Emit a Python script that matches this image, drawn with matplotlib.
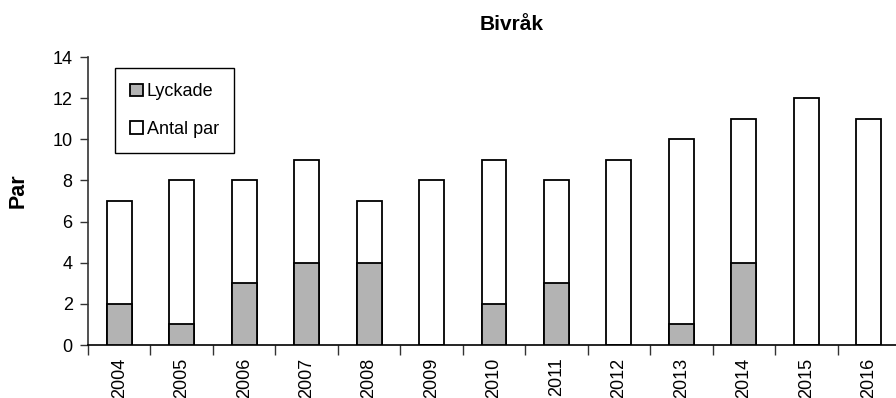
import numpy as np
import matplotlib
matplotlib.use("Agg")
import matplotlib.pyplot as plt
from matplotlib.ticker import FixedLocator, NullFormatter

plt.rcParams["font.family"] = ["Liberation Sans", "DejaVu Sans"]

years = ["2004", "2005", "2006", "2007", "2008", "2009", "2010",
         "2011", "2012", "2013", "2014", "2015", "2016"]
antal_par = [7, 8, 8, 9, 7, 8, 9, 8, 9, 10, 11, 12, 11]
lyckade = [2, 1, 3, 4, 4, 0, 2, 3, 0, 1, 4, 0, 0]

x = np.arange(len(years))
w = 0.4

fig = plt.figure(figsize=(8.96, 3.98), dpi=100)
ax = fig.add_axes([88 / 896, 53 / 398, 812 / 896, 288 / 398])

ax.bar(x, antal_par, width=w, color="white", edgecolor="black", linewidth=1.3,
       label="Antal par", zorder=2)
ly = np.array(lyckade)
ax.bar(x[ly > 0], ly[ly > 0], width=w, color="#b3b3b3", edgecolor="black",
       linewidth=1.3, label="Lyckade", zorder=3)

ax.set_xlim(-0.5, len(years) - 0.5)
ax.set_ylim(0, 14)
ax.set_yticks(range(0, 15, 2))
ax.set_xticks(x)
ax.set_xticklabels(years, rotation=90)
ax.xaxis.set_minor_locator(FixedLocator(np.arange(-0.5, len(years), 1.0)))
ax.xaxis.set_minor_formatter(NullFormatter())
ax.tick_params(axis="x", which="major", length=0, pad=9, labelsize=13)
ax.tick_params(axis="x", which="minor", length=7, width=1, color="#333333")
ax.tick_params(axis="y", length=6, width=1, color="#333333", labelsize=13, pad=5)

for side in ("top", "right"):
    ax.spines[side].set_visible(False)
ax.spines["left"].set_color("#333333")
ax.spines["bottom"].set_color("black")
ax.spines["left"].set_linewidth(1.2)
ax.spines["bottom"].set_linewidth(1.2)

fig.text(18 / 896, 1 - 191 / 398, "Par", fontsize=15.5, fontweight="bold",
         rotation=90, ha="center", va="center")
fig.text(512 / 896, 1 - 25 / 398, "Bivråk", fontsize=15, fontweight="bold",
         ha="center", va="center")

handles, labels = ax.get_legend_handles_labels()
leg = ax.legend(handles[::-1], labels[::-1], loc="upper left",
                bbox_to_anchor=(115 / 896, 1 - 68 / 398), bbox_transform=fig.transFigure,
                fontsize=13, handlelength=0.7, handleheight=0.7, handletextpad=0.2,
                labelspacing=1.15, borderpad=0.85, borderaxespad=0, fancybox=False,
                edgecolor="black", framealpha=1)
leg.get_frame().set_linewidth(1.0)

fig.savefig("out.png", dpi=100)
